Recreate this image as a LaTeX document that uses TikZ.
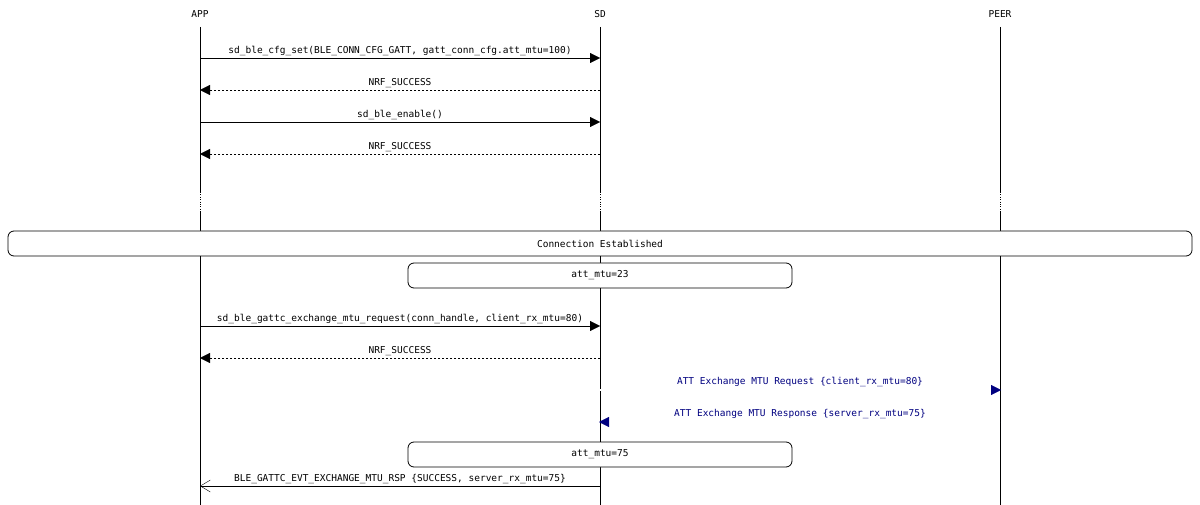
\documentclass[tikz,border=0pt]{standalone}
\usepackage{fontspec}
\setmonofont{DejaVu Sans Mono}
\usetikzlibrary{arrows.meta}
\definecolor{msgblue}{RGB}{0,0,128}
\begin{document}
\begin{tikzpicture}[x=1pt,y=-1pt,font=\ttfamily\fontsize{9.5}{11}\selectfont,
    call/.style={-{Triangle[length=10pt,width=10pt]}},
    reply/.style={-{Triangle[length=10pt,width=10pt]},dash pattern=on 2pt off 2pt},
    event/.style={-{Straight Barb[length=10pt,width=12pt]}},
    air/.style={-{Triangle[length=10pt,width=10pt]},msgblue,double,double distance=2pt,
                shorten >=-1pt},
    lbl/.style={above,inner sep=2pt},
    state/.style={draw,rounded corners=6pt,thick}]
	\useasboundingbox (0,0) rectangle (1200,505);
	% lifelines
	\foreach \n/\x in {APP/200,SD/600,PEER/1000}{
	 \node (\n) at (\x,14) {\n};
	 \draw (\x,27) -- (\x,192);
	 \draw[dotted] (\x,192) -- (\x,212);
	 \draw (\x,212) -- (\x,505);
	}
	\foreach \n/\y in {r1/58,r2/90,r3/122,r4/154,r5/326,r6/358,r7/390,r8/422,r9/486}{
	 \coordinate (app\n) at (200,\y);
	 \coordinate (sd\n) at (600,\y);
	 \coordinate (peer\n) at (1000,\y);
	}
	% setup
	\draw[call] (appr1) -- node[lbl]{sd\_ble\_cfg\_set(BLE\_CONN\_CFG\_GATT, gatt\_conn\_cfg.att\_mtu=100)} (sdr1);
	\draw[reply] (sdr2) -- node[lbl]{NRF\_SUCCESS} (appr2);
	\draw[call] (appr3) -- node[lbl]{sd\_ble\_enable()} (sdr3);
	\draw[reply] (sdr4) -- node[lbl]{NRF\_SUCCESS} (appr4);
	% connection
	\node[state,fill=white,minimum width=1184pt,minimum height=25pt] (conn) at (600,243.5) {Connection Established};
	\node[state,fill=white,minimum width=384pt,minimum height=25pt] (mtu1) at (600,275.5) {att\_mtu=23};
	% exchange
	\draw[call] (appr5) -- node[lbl]{sd\_ble\_gattc\_exchange\_mtu\_request(conn\_handle, client\_rx\_mtu=80)} (sdr5);
	\draw[reply] (sdr6) -- node[lbl]{NRF\_SUCCESS} (appr6);
	\draw[air] (sdr7) -- node[lbl,text=msgblue,yshift=1pt]{ATT Exchange MTU Request \{client\_rx\_mtu=80\}} (peerr7);
	\draw[air] (peerr8) -- node[lbl,text=msgblue,yshift=1pt]{ATT Exchange MTU Response \{server\_rx\_mtu=75\}} (sdr8);
	\node[state,fill=white,minimum width=384pt,minimum height=25pt] (mtu2) at (600,454.5) {att\_mtu=75};
	\draw[event] (sdr9) -- node[lbl]{BLE\_GATTC\_EVT\_EXCHANGE\_MTU\_RSP \{SUCCESS, server\_rx\_mtu=75\}} (appr9);
\end{tikzpicture}
\end{document}
